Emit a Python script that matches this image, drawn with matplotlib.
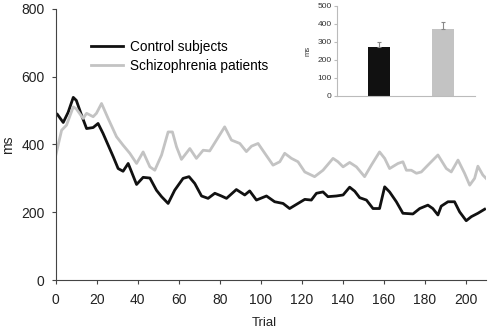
import numpy as np
import matplotlib.pyplot as plt

plt.rcParams['font.family'] = ['Liberation Sans', 'DejaVu Sans']

# control subjects (trial, ms)
ctrl_trial = [0, 0.6, 3.6, 6, 8.5, 10, 12.5, 15, 18.2, 20.6, 23, 28, 30.4, 32.8, 35.3,
              39.4, 42.6, 45.9, 49.1, 51.6, 54.8, 58, 62.1, 65, 67.8, 71.1, 74.3, 77.6,
              80.8, 83.3, 88.1, 92.2, 94.6, 97.9, 102.8, 106.8, 110.9, 114.1, 118.2,
              121.5, 124.7, 127.2, 130.4, 132.8, 136.9, 140.2, 143.4, 145.9, 148.3,
              151.6, 154.8, 158, 160.5, 162.9, 166.2, 169.4, 174.3, 177.6, 181.6, 184,
              186.5, 188.1, 191.4, 194.6, 197.1, 200.3, 202.8, 206, 209.3]
ctrl_ms = [490, 490, 465, 495, 539, 530, 487, 447, 450, 462, 433, 364, 329, 321, 344,
           282, 303, 301, 265, 246, 226, 265, 300, 305, 285, 248, 241, 256,
           248, 241, 267, 251, 263, 236, 248, 231, 226, 211, 226,
           238, 236, 256, 260, 246, 248, 251, 274, 262, 243,
           236, 211, 211, 275, 260, 231, 197, 195, 211, 221, 211,
           192, 218, 231, 231, 201, 175, 187, 197, 209]

# schizophrenia patients
schz_trial = [0, 2.8, 5.2, 8.5, 10, 13.3, 15, 18.2, 19.8, 22.3, 25.5, 29.6, 32.8, 36.1,
              39.4, 42.6, 45.9, 48.3, 51.6, 54.8, 56.9, 58.9, 61.3, 65.4, 68.6, 71.9,
              75.1, 78.4, 82.4, 85.7, 89.8, 93, 95.5, 98.7, 102, 106, 109.3, 111.7, 115,
              118.2, 121.5, 126.3, 130.4, 135.3, 137.7, 140.2, 143.4, 146.7, 150.7, 154,
              158, 160.5, 162.9, 167, 169.4, 171.1, 173.5, 176, 178.4, 181.6, 186.5,
              190.6, 193, 196.3, 199.5, 202, 204.4, 206, 208.4, 210]
schz_ms = [369, 442, 457, 511, 505, 477, 492, 482, 492, 521, 477, 423, 398, 374,
           344, 378, 334, 324, 369, 437, 437, 393, 356, 388, 359, 383,
           381, 413, 452, 413, 403, 379, 395, 403, 374, 339, 349, 374, 359,
           349, 319, 305, 324, 359, 349, 334, 347, 334, 305, 339,
           378, 359, 329, 344, 349, 324, 324, 315, 319, 339, 369,
           329, 319, 354, 315, 280, 300, 336, 310, 300]

# inset: mean ms per group with upper error
groups = ['Control subjects', 'Schizophrenia patients']
mean_ms = [273, 372]
err_ms = [28, 41]

black = '#111111'
grey = '#c3c3c3'

fig = plt.figure(figsize=(4.9, 3.31), dpi=100)
ax = fig.add_axes([0.114, 0.154, 0.878, 0.819])
ax.plot(ctrl_trial, ctrl_ms, color=black, lw=2.0, label=groups[0])
ax.plot(schz_trial, schz_ms, color=grey, lw=2.0, label=groups[1])
ax.set_xlim(0, 210)
ax.set_ylim(0, 800)
ax.set_xticks(np.arange(0, 201, 20))
ax.set_yticks(np.arange(0, 801, 200))
for s in ['top', 'right']:
    ax.spines[s].set_visible(False)
for s in ['left', 'bottom']:
    ax.spines[s].set_color('#444444')
ax.tick_params(labelsize=10, length=3, color='#444444', labelcolor='#222222')
ax.tick_params(axis='x', pad=6)
ax.tick_params(axis='y', pad=5)
ax.set_xlabel('Trial', fontsize=9.5, color='#222222')
ax.set_ylabel('ms', fontsize=10, color='#222222')
ax.xaxis.set_label_coords(0.485, -0.135)
ax.yaxis.set_label_coords(-0.095, 0.5)
ax.legend(loc='upper left', bbox_to_anchor=(0.07, 0.905), frameon=False, fontsize=9.8,
          handlelength=2.3, handletextpad=0.55, labelspacing=0.35, borderaxespad=0)

ins = fig.add_axes([0.688, 0.71, 0.282, 0.272])
ins.bar([0, 1], mean_ms, width=0.35, color=[black, grey], edgecolor='none',
        yerr=[[0, 0], err_ms], error_kw=dict(ecolor='#888888', elinewidth=0.8,
                                             capsize=1.5, capthick=0.8))
ins.set_xlim(-0.657, 1.503)
ins.set_ylim(0, 500)
ins.set_yticks(np.arange(0, 501, 100))
ins.set_xticks([])
for s in ['top', 'right']:
    ins.spines[s].set_visible(False)
for s in ['left', 'bottom']:
    ins.spines[s].set_color('#bbbbbb')
ins.tick_params(labelsize=6, length=2, color='#bbbbbb', labelcolor='#333333', pad=2)
ins.set_ylabel('ms', fontsize=5.5, color='#333333', labelpad=4)

fig.savefig('out.png', dpi=100)
